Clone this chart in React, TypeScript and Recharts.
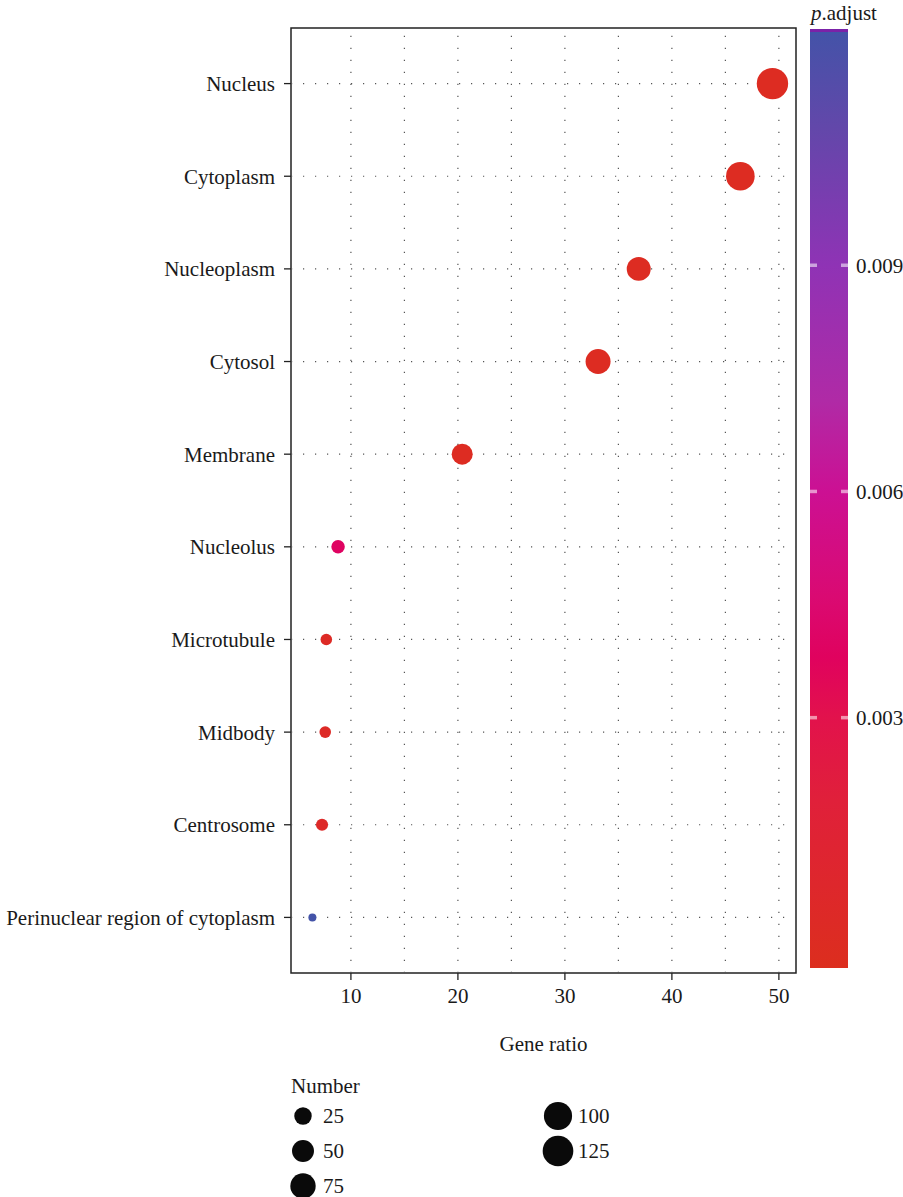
import { ScatterChart, Scatter, XAxis, YAxis, ReferenceLine, ReferenceArea } from "recharts";

// GO cellular component terms, top to bottom
const CATEGORIES = [
  "Nucleus",
  "Cytoplasm",
  "Nucleoplasm",
  "Cytosol",
  "Membrane",
  "Nucleolus",
  "Microtubule",
  "Midbody",
  "Centrosome",
  "Perinuclear region of cytoplasm",
];
const GENE_RATIO = [49.4, 46.4, 36.9, 33.1, 20.4, 8.8, 7.7, 7.6, 7.3, 6.4];
const GENE_COUNT = [133, 104, 64, 72, 44, 11, 7, 7, 8, 4];
const P_ADJUST = [1.2e-40, 3.5e-35, 2.1e-22, 6.4e-20, 1.8e-9, 0.0039, 2.4e-4, 3.1e-4, 4.5e-4, 0.0121];

const X_TICKS = [10, 20, 30, 40, 50];
const X_GRID = [10, 15, 20, 25, 30, 35, 40, 45, 50];
const X_DOMAIN = [4.4, 51.6];

const SIZE_BREAKS = [25, 50, 75, 100, 125];
const COLOR_BREAKS = [0.003, 0.006, 0.009];
const COLOR_LIMITS = [-0.00032, 0.01212];
const COLOR_STOP_VALUES = [-0.00032, 0.0019, 0.003, 0.0038, 0.0046, 0.006, 0.0072, 0.009, 0.0108, 0.01212];
const COLOR_STOP_HEX = [
  "#dc2e1e",
  "#e0203a",
  "#e2124c",
  "#e0025e",
  "#da0a72",
  "#cc1093",
  "#b02aa6",
  "#8f33b5",
  "#6347aa",
  "#4353a8",
];

const FONT = "'Liberation Serif', 'Times New Roman', serif";
const FS = 21;
const N = CATEGORIES.length;

const data = CATEGORIES.map((name, i) => ({
  name,
  ratio: GENE_RATIO[i],
  y: N - 1 - i,
  count: GENE_COUNT[i],
  padj: P_ADJUST[i],
}));

const countMin = Math.min(...GENE_COUNT);
const countMax = Math.max(...GENE_COUNT);

function sizeOf(n: number): number {
  const t = Math.max(0, (n - countMin) / (countMax - countMin));
  return 4 + 11.7 * Math.sqrt(t);
}

function hexToRgb(h: string): number[] {
  return [1, 3, 5].map((k) => parseInt(h.slice(k, k + 2), 16));
}

function colorOf(p: number): string {
  const v = COLOR_STOP_VALUES;
  if (p <= v[0]) return COLOR_STOP_HEX[0];
  for (let i = 1; i < v.length; i++) {
    if (p <= v[i]) {
      const t = (p - v[i - 1]) / (v[i] - v[i - 1]);
      const a = hexToRgb(COLOR_STOP_HEX[i - 1]);
      const b = hexToRgb(COLOR_STOP_HEX[i]);
      const c = a.map((x, k) => Math.round(x + (b[k] - x) * t));
      return `rgb(${c[0]},${c[1]},${c[2]})`;
    }
  }
  return COLOR_STOP_HEX[COLOR_STOP_HEX.length - 1];
}

const Bubble = (props: any) => {
  const { cx, cy, payload } = props;
  if (cx == null || cy == null) return null;
  return <circle cx={cx} cy={cy} r={sizeOf(payload.count)} fill={colorOf(payload.padj)} />;
};

// colour bar geometry
const BAR_X = 810;
const BAR_W = 38;
const BAR_TOP = 30;
const BAR_BOTTOM = 968;

function barY(p: number): number {
  const t = (p - COLOR_LIMITS[0]) / (COLOR_LIMITS[1] - COLOR_LIMITS[0]);
  return BAR_BOTTOM - t * (BAR_BOTTOM - BAR_TOP);
}

const tickStyle = { fill: "#1a1a1a", fontSize: FS, fontFamily: FONT };
const gridProps = { stroke: "#555", strokeDasharray: "1.2 10.8", strokeWidth: 1.2 };

export default function App() {
  return (
    <div style={{ position: "absolute", left: 0, top: 0, width: 903, height: 1197, background: "#fff" }}>
      <ScatterChart width={903} height={1197} margin={{ top: 28, right: 107, bottom: 144, left: 0 }}>
        <XAxis
          type="number"
          dataKey="ratio"
          domain={X_DOMAIN}
          ticks={X_TICKS}
          interval={0}
          height={80}
          axisLine={false}
          tickLine={{ stroke: "#222", strokeWidth: 1.3 }}
          tickSize={7}
          tickMargin={8}
          tick={tickStyle}
          label={{
            value: "Gene ratio",
            position: "insideBottom",
            offset: 2,
            style: { fill: "#1a1a1a", fontSize: FS, fontFamily: FONT },
          }}
        />
        <YAxis
          type="number"
          dataKey="y"
          domain={[-0.6, N - 1 + 0.6]}
          ticks={data.map((d) => d.y)}
          interval={0}
          width={291}
          axisLine={false}
          tickLine={{ stroke: "#222", strokeWidth: 1.3 }}
          tickSize={7}
          tickMargin={9}
          tick={tickStyle}
          tickFormatter={(v: number) => CATEGORIES[N - 1 - v]}
        />
        {X_GRID.map((v) => (
          <ReferenceLine key={`gx${v}`} x={v} {...gridProps} />
        ))}
        {data.map((d) => (
          <ReferenceLine key={`gy${d.y}`} y={d.y} {...gridProps} />
        ))}
        <ReferenceArea
          x1={X_DOMAIN[0]}
          x2={X_DOMAIN[1]}
          y1={-0.6}
          y2={N - 1 + 0.6}
          fill="none"
          fillOpacity={0}
          stroke="#222"
          strokeWidth={1.5}
        />
        <Scatter data={data} shape={Bubble} isAnimationActive={false} />
      </ScatterChart>

      <svg
        width={903}
        height={1197}
        style={{ position: "absolute", left: 0, top: 0, pointerEvents: "none" }}
        fontFamily={FONT}
      >
        <defs>
          <linearGradient id="padj" x1="0" y1="1" x2="0" y2="0">
            {COLOR_STOP_VALUES.map((v, i) => (
              <stop
                key={i}
                offset={(v - COLOR_LIMITS[0]) / (COLOR_LIMITS[1] - COLOR_LIMITS[0])}
                stopColor={COLOR_STOP_HEX[i]}
              />
            ))}
          </linearGradient>
        </defs>

        {/* colour bar */}
        <text x={811} y={20} fontSize={FS} fill="#1a1a1a">
          <tspan fontStyle="italic">p</tspan>.adjust
        </text>
        <rect x={BAR_X} y={BAR_TOP} width={BAR_W} height={BAR_BOTTOM - BAR_TOP} fill="url(#padj)" />
        <rect x={BAR_X} y={BAR_TOP - 1} width={BAR_W} height={3} fill="#7b22a8" />
        {COLOR_BREAKS.map((b) => {
          const y = barY(b);
          return (
            <g key={b}>
              <line x1={BAR_X} x2={BAR_X + 7} y1={y} y2={y} stroke="#fff" strokeOpacity={0.55} strokeWidth={3.5} />
              <line
                x1={BAR_X + BAR_W - 7}
                x2={BAR_X + BAR_W}
                y1={y}
                y2={y}
                stroke="#fff"
                strokeOpacity={0.55}
                strokeWidth={3.5}
              />
              <text x={856} y={y} dy="0.35em" fontSize={FS} fill="#1a1a1a">
                {b.toFixed(3)}
              </text>
            </g>
          );
        })}

        {/* size legend */}
        <text x={291} y={1093} fontSize={FS} fill="#1a1a1a">
          Number
        </text>
        {SIZE_BREAKS.map((b, i) => {
          const col = Math.floor(i / 3);
          const row = i % 3;
          const cx = 303 + col * 255;
          const cy = 1116 + row * 35;
          return (
            <g key={b}>
              <circle cx={cx} cy={cy} r={sizeOf(b)} fill="#0a0a0a" />
              <text x={cx + 20} y={cy} dy="0.35em" fontSize={FS} fill="#1a1a1a">
                {b}
              </text>
            </g>
          );
        })}
      </svg>
    </div>
  );
}
